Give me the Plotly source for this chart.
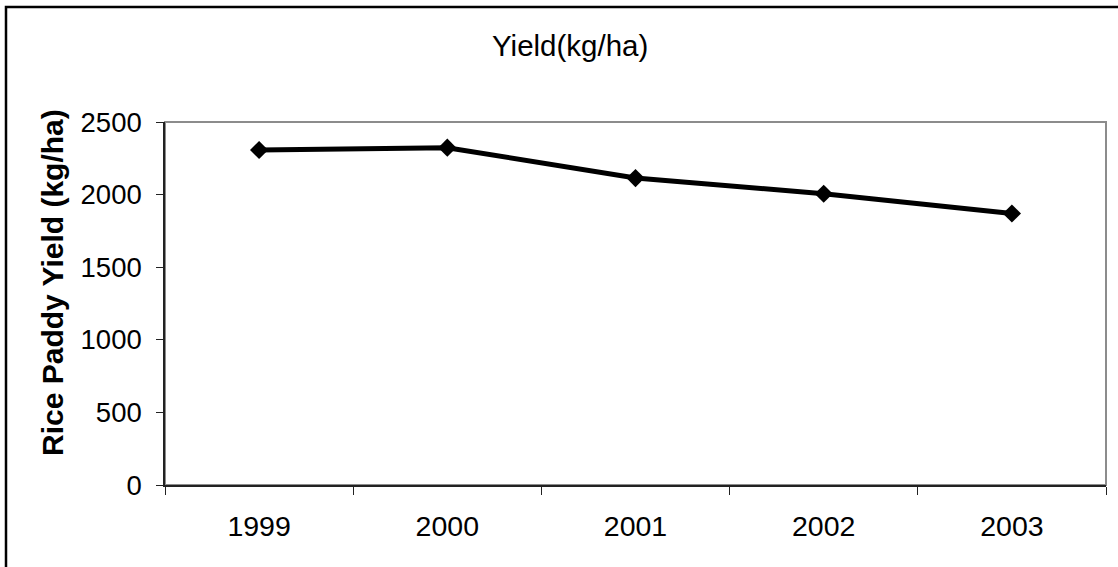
import plotly.graph_objects as go

years = ["1999", "2000", "2001", "2002", "2003"]
yield_kg_ha = [2307, 2323, 2114, 2006, 1870]
y_ticks = [0, 500, 1000, 1500, 2000, 2500]

FONT = "Liberation Sans, Arial, sans-serif"

fig = go.Figure()
fig.add_trace(go.Scatter(
    x=years, y=yield_kg_ha, mode="lines+markers",
    line=dict(color="black", width=5),
    marker=dict(symbol="diamond", size=14, color="black"),
    showlegend=False,
))

L, R, T, B = 165, 12, 122, 82
W, H = 1118, 567
pw, ph = W - L - R, H - T - B

fig.update_layout(
    width=W, height=H,
    margin=dict(l=L, r=R, t=T, b=B),
    paper_bgcolor="white", plot_bgcolor="white",
    font=dict(family=FONT, size=28, color="black"),
    title=dict(text="Yield(kg/ha)", x=0.51, xanchor="center",
               y=1 - 46 / H, yanchor="middle",
               font=dict(family=FONT, size=29.5, color="black")),
    xaxis=dict(
        type="category", tickson="boundaries", ticks="outside", ticklen=8,
        tickcolor="#222", tickwidth=1.3, showline=True, linecolor="#222",
        linewidth=1.5, showgrid=False, zeroline=False,
        range=[-0.5, 4.5], ticklabelstandoff=15,
        tickfont=dict(family=FONT, size=28.5, color="black"),
    ),
    yaxis=dict(
        range=[0, 2500], tickvals=y_ticks, ticks="outside", ticklen=7,
        tickcolor="#222", tickwidth=1.3, showline=True, linecolor="#222",
        linewidth=1.5, showgrid=False, zeroline=False,
        ticklabelstandoff=9,
        tickfont=dict(family=FONT, size=27.5, color="black"),
    ),
    annotations=[dict(
        text="<b>Rice Paddy Yield (kg/ha)</b>", textangle=-90,
        xref="paper", yref="paper", x=(52 - L) / pw, y=(H - B - 283) / ph,
        xanchor="center", yanchor="middle", showarrow=False,
        font=dict(family=FONT, size=30, color="black"),
    )],
    shapes=[
        dict(type="rect", xref="paper", yref="paper", x0=0, x1=1, y0=0, y1=1,
             line=dict(color="#8c8c8c", width=2), layer="below"),
        dict(type="rect", xref="paper", yref="paper",
             x0=(6 - L) / pw, x1=(1140 - L) / pw,
             y0=(H - B - 600) / ph, y1=(H - B - 7) / ph,
             line=dict(color="black", width=2.5), layer="below"),
    ],
)

fig.write_html("out.html")
